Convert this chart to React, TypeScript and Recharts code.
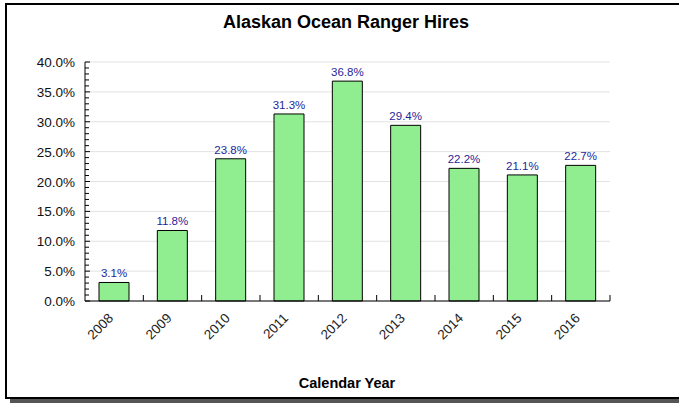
import { BarChart, Bar, XAxis, YAxis, CartesianGrid, LabelList } from 'recharts';

const years = ['2008', '2009', '2010', '2011', '2012', '2013', '2014', '2015', '2016'];
const hires = [3.1, 11.8, 23.8, 31.3, 36.8, 29.4, 22.2, 21.1, 22.7];
const majorTicks = [0, 5, 10, 15, 20, 25, 30, 35, 40];
const allTicks = Array.from({ length: 41 }, (_, i) => i);

const data = years.map((year, i) => ({ year, hires: hires[i] }));

const FONT = '"Liberation Sans", Arial, sans-serif';

function YTick(props: any) {
  const { x, y, payload } = props;
  const v = payload.value as number;
  const major = v % 5 === 0;
  return (
    <g>
      <line x1={x} x2={x + (major ? 5 : 4)} y1={y} y2={y} stroke="#000" />
      {major && (
        <text x={x - 10} y={y} dy={5} textAnchor="end" fontSize={13.5} fill="#111" fontFamily={FONT}>
          {v.toFixed(1) + '%'}
        </text>
      )}
    </g>
  );
}

function XTick(props: any) {
  const { x, y, payload } = props;
  const half = payload.offset ?? 0;
  const ax = x;
  const ay = y + 18;
  return (
    <g>
      {/* tick at the right edge of each category */}
      <line x1={x + half} x2={x + half} y1={y} y2={y - 6} stroke="#000" />
      <text
        x={ax}
        y={ay}
        textAnchor="end"
        fontSize={13.5}
        fill="#222"
        fontFamily={FONT}
        transform={`rotate(-45, ${ax}, ${ay})`}
      >
        {payload.value}
      </text>
    </g>
  );
}

export default function App() {
  return (
    <div style={{ position: 'absolute', left: 0, top: 0, width: 679, height: 403, overflow: 'hidden', background: '#fff' }}>
      <div
        style={{
          position: 'absolute', left: 5, top: 3, width: 700, height: 392,
          border: '2px solid #000', boxShadow: '5px 5px 0 #555', background: '#fff',
        }}
      />
      <div
        style={{
          position: 'absolute', left: 0, top: 12, width: 692, textAlign: 'center',
          fontFamily: FONT, fontWeight: 'bold', fontSize: 18, color: '#000',
        }}
      >
        Alaskan Ocean Ranger Hires
      </div>
      <div
        style={{
          position: 'absolute', left: 0, top: 375, width: 694, textAlign: 'center',
          fontFamily: FONT, fontWeight: 'bold', fontSize: 14.5, color: '#000',
        }}
      >
        Calendar Year
      </div>
      <div style={{ position: 'absolute', left: 0, top: 0 }}>
        <BarChart
          width={679}
          height={403}
          data={data}
          margin={{ top: 62, right: 69, bottom: 42, left: 0 }}
        >
          <CartesianGrid vertical={false} horizontalValues={majorTicks} stroke="#e2e2e2" />
          <XAxis
            dataKey="year"
            height={60}
            axisLine={{ stroke: '#000' }}
            tickLine={false}
            tickSize={0}
            tickMargin={0}
            interval={0}
            tick={<XTick />}
          />
          <YAxis
            width={85}
            domain={[0, 40]}
            ticks={allTicks}
            interval={0}
            axisLine={{ stroke: '#000' }}
            tickLine={false}
            tickSize={0}
            tickMargin={0}
            tick={<YTick />}
          />
          <Bar dataKey="hires" fill="#90ee90" stroke="#000" strokeWidth={1} barSize={30} isAnimationActive={false}>
            <LabelList
              dataKey="hires"
              position="top"
              offset={5}
              formatter={(v: any) => Number(v).toFixed(1) + '%'}
              fill="#1f1f99"
              fontSize={11.5}
              fontFamily={FONT}
            />
          </Bar>
        </BarChart>
      </div>
    </div>
  );
}
